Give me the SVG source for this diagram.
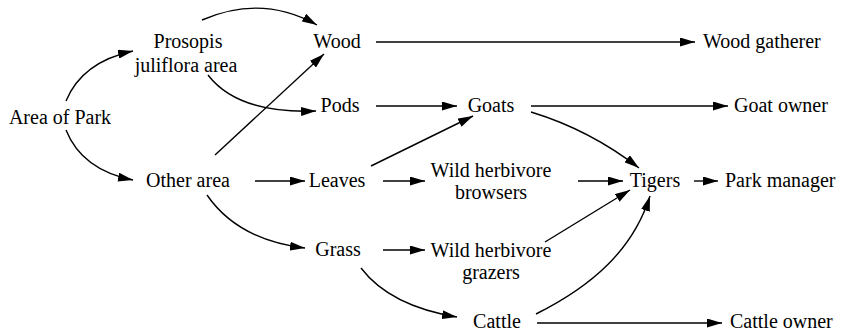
<svg xmlns="http://www.w3.org/2000/svg" width="844" height="334" viewBox="0 0 844 334">
<style>
text{font-family:"Liberation Serif","Times New Roman",serif;font-size:20px;fill:#000}
.m{text-anchor:middle}
.c path{fill:none;stroke:#000;stroke-width:1.4;marker-end:url(#a)}
</style>
<defs>
<marker id="a" markerUnits="userSpaceOnUse" markerWidth="15" markerHeight="9" refX="15" refY="4.5" orient="auto"><path d="M0,0 L15,4.5 L0,9 z" fill="#000"/></marker>
</defs>
<rect width="844" height="334" fill="#fff"/>
<g class="c" id="connectors">
<path d="M66,101 Q82,62 133,51"/>
<path d="M66,130 Q82,170 133,180"/>
<path d="M202,20 Q262,-6 317,25"/>
<path d="M208,75 Q238,114 316,111"/>
<path d="M215,155 L324,54"/>
<path d="M376,42 L695,42"/>
<path d="M376,106 L457,106"/>
<path d="M371,166 L473,116"/>
<path d="M531,106 L728,106"/>
<path d="M531,112 Q590,130 639,168"/>
<path d="M255,181 L305,181"/>
<path d="M383,181 L425,181"/>
<path d="M578,181 L623,181"/>
<path d="M694,181 L718,181"/>
<path d="M207,195 Q238,240 305,248"/>
<path d="M383,250 L425,250"/>
<path d="M545,242 L630,190"/>
<path d="M361,268 Q390,306 457,317"/>
<path d="M536,314 C592,286 633,250 650,196"/>
<path d="M537,323 L722,323"/>
</g>
<g id="area-of-park"><text x="60" y="124" class="m">Area of Park</text></g>
<g id="prosopis"><text x="188" y="48" class="m">Prosopis</text><text x="186" y="72" class="m">juliflora area</text></g>
<g id="wood"><text x="337" y="48" class="m">Wood</text></g>
<g id="pods"><text x="340" y="112" class="m">Pods</text></g>
<g id="goats"><text x="491" y="112" class="m">Goats</text></g>
<g id="wood-gatherer"><text x="703" y="48">Wood gatherer</text></g>
<g id="goat-owner"><text x="734" y="112">Goat owner</text></g>
<g id="other-area"><text x="188" y="187" class="m">Other area</text></g>
<g id="leaves"><text x="337" y="187" class="m">Leaves</text></g>
<g id="browsers"><text x="491" y="177" class="m">Wild herbivore</text><text x="491" y="199" class="m">browsers</text></g>
<g id="tigers"><text x="655" y="187" class="m">Tigers</text></g>
<g id="park-manager"><text x="725" y="187">Park manager</text></g>
<g id="grass"><text x="338" y="256" class="m">Grass</text></g>
<g id="grazers"><text x="491" y="257" class="m">Wild herbivore</text><text x="491" y="279" class="m">grazers</text></g>
<g id="cattle"><text x="497" y="328" class="m">Cattle</text></g>
<g id="cattle-owner"><text x="730" y="328">Cattle owner</text></g>
</svg>
